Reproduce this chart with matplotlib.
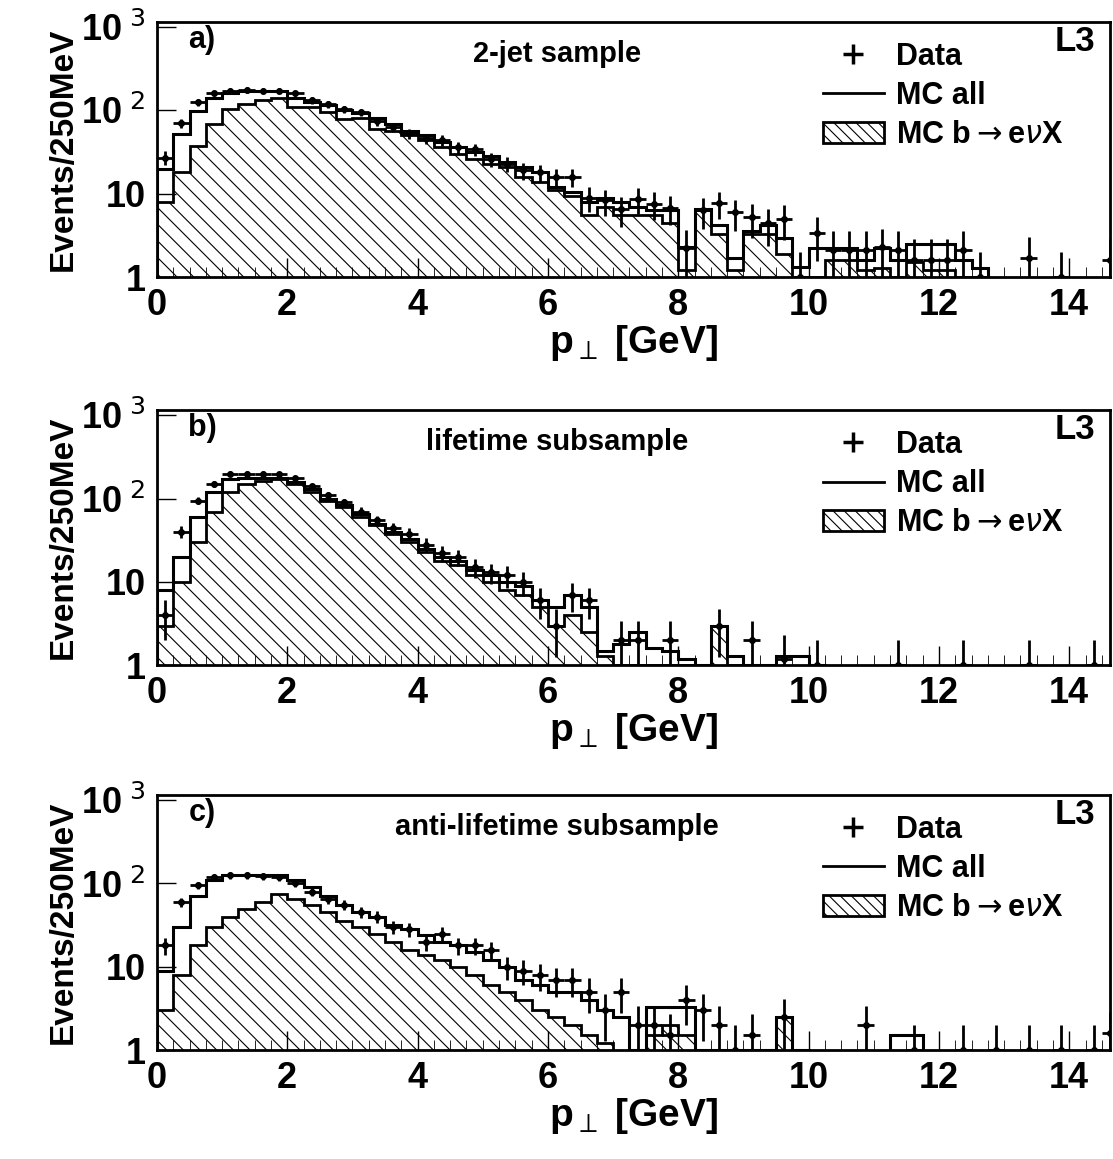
import numpy as np
import matplotlib.pyplot as plt
import matplotlib as mpl
from matplotlib.patches import Patch
from matplotlib.lines import Line2D
from matplotlib.ticker import FixedLocator, FixedFormatter, MultipleLocator

mpl.rcParams['hatch.linewidth'] = 0.8

# 0.25 GeV bins from 0 to 15
edges = np.arange(0, 15.01, 0.25)
centers = edges[:-1] + 0.125

def pad(v):
    v = list(v)
    return np.array(v + [0] * (60 - len(v)), dtype=float)

# panel a: 2-jet sample
a_data = pad([27, 70, 125, 160, 173, 177, 173, 173, 160, 132, 118, 103, 95, 74, 63, 53,
              46, 44, 36, 34, 26, 23, 19, 18, 16, 16, 9, 8.3, 6.6, 8.7, 7.6, 6.8, 2.2, 6.3,
              7.8, 6, 5.2, 4.5, 5, 1, 3.4, 2.1, 2.1, 2.1, 2.3, 2.1, 1.6, 1.6, 1.6, 2.1,
              1, 0, 0, 1.7, 0, 1, 0, 0, 1.6])
a_all = pad([20, 52, 97, 140, 160, 173, 173, 170, 140, 125, 115, 100, 92, 80, 68, 57, 50,
             42, 36, 32, 28, 24, 21, 18, 12, 10.5, 8, 9, 8, 7, 6.3, 6.3, 2.3, 6.5, 4.2, 1.7,
             3.6, 4.2, 2.9, 1.33, 2.2, 2.2, 2.2, 1.6, 2.2, 1.6, 2.5, 2.5, 2.5, 1.6, 1.3, 0])
a_b = pad([8, 18, 37, 68, 103, 118, 135, 140, 110, 110, 95, 78, 82, 59, 56, 50, 44, 36,
           30, 26, 23, 21, 16, 14, 11, 9.5, 5.5, 7, 5.5, 5.5, 5.5, 4.4, 1.2, 6.3, 3.3, 1.2,
           3.3, 3.3, 1.9, 1.0, 1.0, 1.6, 1.6, 1.2, 1.3, 1.0, 1.5, 1.2, 1.2, 1.0])

# panel b: lifetime subsample
b_data = pad([4, 40, 95, 150, 200, 200, 200, 195, 175, 140, 110, 90, 70, 55, 45, 38, 28,
              22, 20, 15, 13, 12, 10, 6, 3, 7, 6, 0, 2, 2, 0, 2, 0, 0, 3, 0, 2, 0, 1.2, 0,
              1, 0, 0, 0, 0, 1, 0, 0, 0, 1, 0, 0, 0, 1, 0, 0, 0, 1])
b_all = pad([8, 20, 60, 120, 170, 175, 175, 175, 160, 130, 100, 85, 65, 50, 40, 33, 25,
             20, 18, 14, 12, 10, 9, 6, 5, 7, 5, 1.5, 1.8, 2.5, 1.6, 1.5, 1.2, 1, 3, 1.3, 1,
             1, 1.3, 1.3, 1])
b_b = pad([3, 10, 30, 70, 120, 150, 165, 170, 150, 120, 95, 80, 60, 48, 38, 30, 23, 18,
           16, 12, 10, 8, 7, 5, 3, 4, 2.5, 1.3, 1, 1, 1, 1, 1, 1, 3, 1])

# panel c: anti-lifetime subsample
c_data = pad([18, 60, 95, 120, 125, 125, 122, 118, 100, 80, 65, 55, 45, 40, 30, 28, 20,
              25, 18, 18, 16, 10, 9, 8, 7, 7, 5, 3, 5, 2, 2, 1.5, 4, 3, 2, 1, 1.5, 0, 2.5,
              0, 0, 0, 0, 2, 0, 0, 1, 0, 0, 1, 0, 1, 0, 1, 0, 1, 0, 1, 1.6])
c_all = pad([9, 30, 70, 110, 125, 125, 125, 125, 110, 90, 70, 55, 45, 40, 32, 28, 24, 20,
             18, 15, 12, 10, 7, 6, 5, 5, 4, 3, 2.5, 1, 3.3, 3.3, 3.3, 1, 1, 1, 1, 1, 2.5,
             1, 0, 0, 0, 0, 0, 1.5, 1.5])
c_b = pad([3, 8, 18, 30, 40, 50, 60, 75, 65, 55, 45, 35, 30, 25, 20, 16, 14, 12, 10, 8, 6,
           5, 4, 3, 2.5, 2, 1.5, 1.2, 0, 0, 1.5, 2, 1.5, 0, 0, 0, 0, 0, 2.5])

panels = [("a)", "2-jet sample", a_data, a_all, a_b),
          ("b)", "lifetime subsample", b_data, b_all, b_b),
          ("c)", "anti-lifetime subsample", c_data, c_all, c_b)]

fig = plt.figure(figsize=(11.13, 11.59), dpi=100)
bottoms = [0.761, 0.426, 0.094]
bold = dict(fontweight='bold', family='Liberation Sans')

for (tag, title, data, mc_all, mc_b), bot in zip(panels, bottoms):
    ax = fig.add_axes([0.141, bot, 0.856, 0.22])
    ax.set_yscale('log')
    ax.set_xlim(0, 14.62)
    ax.set_ylim(1, 1150)

    hb = np.where(mc_b > 0, mc_b, 1e-3)
    ax.stairs(hb, edges, baseline=1e-3, fill=True, facecolor='none',
              edgecolor='black', hatch='\\\\', linewidth=0)
    ax.stairs(hb, edges, baseline=1e-3, color='black', lw=2)
    ax.stairs(np.where(mc_all > 0, mc_all, 1e-3), edges, baseline=1e-3, color='black', lw=2.2)

    m = data > 0
    err = np.sqrt(data[m])
    lo = np.minimum(err, data[m] - 1e-3)
    ax.errorbar(centers[m], data[m], yerr=[lo, err], xerr=0.125, fmt='o', ms=4,
                color='black', elinewidth=2, capsize=0)

    ax.yaxis.set_major_locator(FixedLocator([1, 10, 100, 1000]))
    ax.yaxis.set_major_formatter(FixedFormatter(['1', '10', r'10$^{\ 2}$', r'10$^{\ 3}$']))
    ax.xaxis.set_major_locator(MultipleLocator(2))
    ax.xaxis.set_minor_locator(MultipleLocator(0.25))
    ax.tick_params(which='both', direction='in', top=False, right=False)
    ax.tick_params(which='major', length=14, width=1, labelsize=26, pad=8)
    ax.tick_params(which='minor', length=7)
    for lab in ax.get_xticklabels() + ax.get_yticklabels():
        lab.set_fontweight('bold')
        lab.set_family('Liberation Sans')
    for s in ax.spines.values():
        s.set_linewidth(2)

    ax.set_xlabel(r'p$_{\perp}$ [GeV]', fontsize=28, labelpad=0, **bold)
    ax.set_ylabel('Events/250MeV', fontsize=24, labelpad=2, **bold)
    ax.text(0.033, 0.99, tag, transform=ax.transAxes, fontsize=22, va='top', **bold)
    ax.text(0.42, 0.93, title, transform=ax.transAxes, fontsize=21, va='top', ha='center', **bold)
    ax.text(0.985, 0.99, "L3", transform=ax.transAxes, fontsize=25, va='top', ha='right', **bold)

    handles = [Line2D([], [], color='black', marker='+', ms=14, mew=2.5, lw=0),
               Line2D([], [], color='black', lw=2),
               Patch(facecolor='none', edgecolor='black', hatch='\\\\\\', lw=2)]
    ax.legend(handles, ['Data', 'MC all', r'MC b$\rightarrow$e$\nu$X'], loc='upper left',
              bbox_to_anchor=(0.67, 1.03), frameon=False, handlelength=2.0,
              prop=dict(size=22, weight='bold', family='Liberation Sans'),
              labelspacing=0.3, handletextpad=0.4)

fig.savefig('out.png')
